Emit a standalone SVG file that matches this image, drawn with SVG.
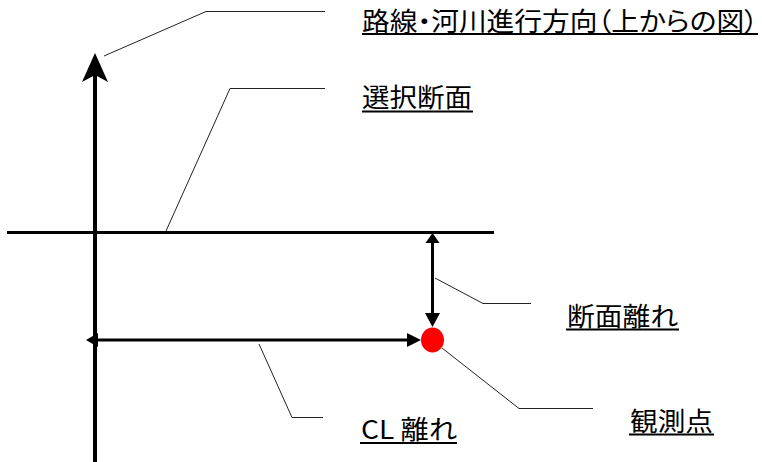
<svg xmlns="http://www.w3.org/2000/svg" width="762" height="462" viewBox="0 0 762 462">
<style>
.lbl{font-family:"Noto Sans CJK JP","Noto Sans",sans-serif;font-size:26px;fill:#000;font-feature-settings:"palt"}
.ul{stroke:#000;stroke-width:2}
.lead{fill:none;stroke:#222;stroke-width:1}
.axis{stroke:#000;fill:none}
</style>
<rect width="762" height="462" fill="#fff"/>
<g id="connectors">
  <line class="axis" x1="95" y1="70" x2="95" y2="462" stroke-width="4"/>
  <polygon points="95,53 108,82 95,75 82,82" fill="#000"/>
  <line class="axis" x1="7" y1="232.5" x2="494" y2="232.5" stroke-width="3"/>
  <line class="axis" x1="432.5" y1="240" x2="432.5" y2="316" stroke-width="3"/>
  <polygon points="432.5,233 439.5,243 425.5,243" fill="#000"/>
  <polygon points="432.5,327 440,313 425,313" fill="#000"/>
  <line class="axis" x1="95" y1="340" x2="410" y2="340" stroke-width="3"/>
  <polygon points="86,340 98,333 98,347" fill="#000"/>
  <polygon points="421,340 407,333 407,347" fill="#000"/>
  <polyline class="lead" points="104,56 206,11.5 325,11.5"/>
  <polyline class="lead" points="166,231 230,88.5 325,88.5"/>
  <polyline class="lead" points="435,278 483,303.5 531,303.5"/>
  <polyline class="lead" points="442,348 519,408.5 593,408.5"/>
  <polyline class="lead" points="259,344 292,417.5 323,417.5"/>
</g>
<g id="observation-point">
  <ellipse cx="432.5" cy="340" rx="11.5" ry="12.5" fill="#ff0000"/>
</g>
<g id="label-direction">
  <text class="lbl" x="362" y="30.5" textLength="396" lengthAdjust="spacingAndGlyphs">路線・河川進行方向（上からの図）</text>
  <line class="ul" x1="362" y1="34" x2="758" y2="34"/>
</g>
<g id="label-section">
  <text class="lbl" x="362" y="107" textLength="110" lengthAdjust="spacingAndGlyphs">選択断面</text>
  <line class="ul" x1="362" y1="111.5" x2="473" y2="111.5"/>
</g>
<g id="label-section-offset">
  <text class="lbl" x="567" y="326" textLength="111" lengthAdjust="spacingAndGlyphs">断面離れ</text>
  <line class="ul" x1="566" y1="329.5" x2="679" y2="329.5"/>
</g>
<g id="label-observation">
  <text class="lbl" x="630" y="431" textLength="83" lengthAdjust="spacingAndGlyphs">観測点</text>
  <line class="ul" x1="629" y1="434.5" x2="714" y2="434.5"/>
</g>
<g id="label-cl-offset">
  <text class="lbl" x="361" y="439" textLength="96" lengthAdjust="spacingAndGlyphs">CL 離れ</text>
  <line class="ul" x1="360" y1="443" x2="457" y2="443"/>
</g>
</svg>
